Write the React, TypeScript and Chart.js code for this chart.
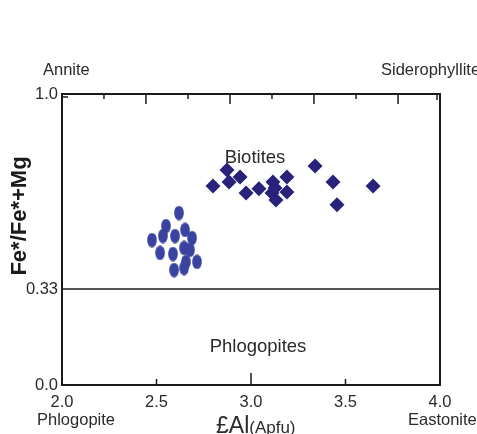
import React, { useEffect, useRef } from 'react';
import { Chart, registerables } from 'chart.js';
Chart.register(...registerables);

const xTicks = [2.0, 2.5, 3.0, 3.5, 4.0];
const yTicks = [0.0, 0.33, 1.0];
const yTickLabels = ['0.0', '0.33', '1.0'];
const boundaryY = 0.33;

const ellipseX = [2.619, 2.55, 2.651, 2.476, 2.534, 2.598, 2.688, 2.519, 2.587, 2.646, 2.677, 2.656, 2.714, 2.593, 2.646];
const ellipseY = [0.591, 0.546, 0.533, 0.498, 0.512, 0.512, 0.505, 0.454, 0.45, 0.471, 0.464, 0.423, 0.423, 0.395, 0.402];

const diamondX = [2.799, 2.873, 2.884, 2.942, 2.974, 3.042, 3.116, 3.19, 3.111, 3.132, 3.19, 3.127, 3.339, 3.434, 3.455, 3.646];
const diamondY = [0.684, 0.739, 0.698, 0.715, 0.66, 0.674, 0.698, 0.715, 0.66, 0.636, 0.663, 0.677, 0.753, 0.698, 0.619, 0.684];

const topMajorTicks = [2.444, 2.889, 3.333, 3.778];
const topMinorTicks = [2.222, 2.667, 3.111, 3.556];
const bottomMinorTicks = [2.5, 3.5];
const bottomMajorTicks = [3.0];

const FONT = '"Liberation Sans", Arial, sans-serif';

function makeEllipse(): HTMLCanvasElement {
  const c = document.createElement('canvas');
  c.width = 10;
  c.height = 15;
  const g = c.getContext('2d')!;
  g.fillStyle = '#3a44a0';
  g.beginPath();
  g.ellipse(5, 7.5, 4.8, 7.3, 0, 0, Math.PI * 2);
  g.fill();
  return c;
}

const decorPlugin = {
  id: 'decor',
  afterDraw(chart: any) {
    const { ctx, chartArea: a, scales } = chart;
    const xs = scales.x;
    const ys = scales.y;
    ctx.save();
    ctx.strokeStyle = '#1a1a1a';
    ctx.lineWidth = 2;
    ctx.strokeRect(a.left, a.top, a.right - a.left, a.bottom - a.top);
    const yb = ys.getPixelForValue(boundaryY);
    ctx.lineWidth = 1.6;
    ctx.beginPath();
    ctx.moveTo(a.left, yb);
    ctx.lineTo(a.right, yb);
    ctx.stroke();
    ctx.lineWidth = 1.5;
    ctx.beginPath();
    topMajorTicks.forEach((v) => {
      const px = xs.getPixelForValue(v);
      ctx.moveTo(px, a.top);
      ctx.lineTo(px, a.top + 10);
    });
    topMinorTicks.forEach((v) => {
      const px = xs.getPixelForValue(v);
      ctx.moveTo(px, a.top);
      ctx.lineTo(px, a.top + 5);
    });
    bottomMinorTicks.forEach((v) => {
      const px = xs.getPixelForValue(v);
      ctx.moveTo(px, a.bottom);
      ctx.lineTo(px, a.bottom - 6);
    });
    bottomMajorTicks.forEach((v) => {
      const px = xs.getPixelForValue(v);
      ctx.moveTo(px, a.bottom);
      ctx.lineTo(px, a.bottom - 12);
    });
    ctx.moveTo(a.left, a.top + 3);
    ctx.lineTo(a.left + 6, a.top + 3);
    ctx.moveTo(a.right - 3, a.top);
    ctx.lineTo(a.right - 3, a.top + 6);
    ctx.stroke();

    ctx.fillStyle = '#2a2a2a';
    ctx.textBaseline = 'middle';
    ctx.textAlign = 'left';
    ctx.font = `16.5px ${FONT}`;
    ctx.fillText('Annite', 43, 70);
    ctx.fillText('Siderophyllite', 381, 70);
    ctx.fillText('Phlogopite', 37, 420);
    ctx.fillText('Eastonite', 408, 420);
    ctx.font = `18.5px ${FONT}`;
    ctx.textAlign = 'center';
    ctx.fillText('Biotites', 255, 158);
    ctx.fillText('Phlogopites', 258, 347);

    ctx.textAlign = 'left';
    ctx.textBaseline = 'alphabetic';
    ctx.font = `23px ${FONT}`;
    ctx.fillText('£Al', 216, 433);
    const w = ctx.measureText('£Al').width;
    ctx.font = `17px ${FONT}`;
    ctx.fillText('(Apfu)', 216 + w, 433);

    ctx.save();
    ctx.translate(20, 216);
    ctx.rotate(-Math.PI / 2);
    ctx.textAlign = 'center';
    ctx.textBaseline = 'middle';
    ctx.font = `bold 22px ${FONT}`;
    ctx.fillStyle = '#1a1a1a';
    ctx.fillText('Fe*/Fe*+Mg', 0, 0);
    ctx.restore();
    ctx.restore();
  },
};

export default function App() {
  const ref = useRef<HTMLCanvasElement | null>(null);
  useEffect(() => {
    if (!ref.current) return;
    const ellipse = makeEllipse();
    const chart = new Chart(ref.current, {
      type: 'scatter',
      data: {
        datasets: [
          {
            label: 'ellipses',
            data: ellipseX.map((x, i) => ({ x, y: ellipseY[i] })),
            pointStyle: ellipse as any,
            pointRadius: 7,
          },
          {
            label: 'diamonds',
            data: diamondX.map((x, i) => ({ x, y: diamondY[i] })),
            pointStyle: 'rectRot',
            pointRadius: 7.5,
            backgroundColor: '#28227a',
            borderColor: '#28227a',
            borderWidth: 0,
          },
        ],
      },
      options: {
        responsive: true,
        maintainAspectRatio: false,
        animation: false,
        layout: { padding: { left: 0, right: 37, top: 94, bottom: 0 } },
        plugins: { legend: { display: false }, tooltip: { enabled: false } },
        scales: {
          x: {
            type: 'linear',
            min: 2,
            max: 4,
            grid: { display: false },
            border: { display: false },
            afterBuildTicks: (s: any) => {
              s.ticks = xTicks.map((v) => ({ value: v }));
            },
            afterFit: (s: any) => {
              s.height = 49;
            },
            ticks: {
              padding: 0,
              color: '#2a2a2a',
              font: { family: FONT, size: 16.5 },
              callback: (v: any) => Number(v).toFixed(1),
              maxRotation: 0,
              autoSkip: false,
            },
          },
          y: {
            type: 'linear',
            min: 0,
            max: 1,
            grid: { display: false },
            border: { display: false },
            afterBuildTicks: (s: any) => {
              s.ticks = yTicks.map((v) => ({ value: v }));
            },
            afterFit: (s: any) => {
              s.width = 62;
            },
            ticks: {
              padding: -4,
              color: '#2a2a2a',
              font: { family: FONT, size: 16.5 },
              callback: (v: any) => {
                const i = yTicks.indexOf(Number(v));
                return i >= 0 ? yTickLabels[i] : '';
              },
              autoSkip: false,
            },
          },
        },
      },
      plugins: [decorPlugin],
    });
    return () => chart.destroy();
  }, []);
  return (
    <div style={{ position: 'absolute', left: 0, top: 0, width: 477, height: 434, background: '#fff' }}>
      <canvas ref={ref} />
    </div>
  );
}
